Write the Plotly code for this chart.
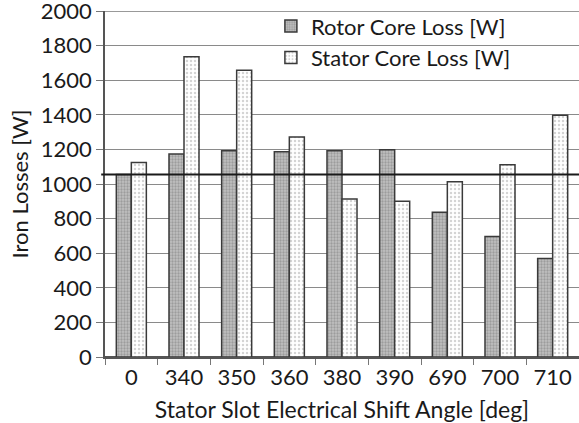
import plotly.graph_objects as go

angles = ["0", "340", "350", "360", "380", "390", "690", "700", "710"]
rotor_loss = [1055, 1173, 1192, 1187, 1192, 1198, 836, 697, 570]
stator_loss = [1125, 1736, 1657, 1272, 913, 900, 1013, 1111, 1397]
reference_level = 1055
y_ticks = [0, 200, 400, 600, 800, 1000, 1200, 1400, 1600, 1800, 2000]

FONT = "Lato"
TICK_SIZE = 22
LEGEND_SIZE = 22
XTITLE_SIZE = 23
YTITLE_SIZE = 22

fig = go.Figure()
fig.add_trace(go.Bar(
    x=angles, y=rotor_loss, name="Rotor Core Loss [W]",
    marker=dict(color="#c0c0c0", line=dict(color="#3a3a3a", width=1.5),
                pattern=dict(shape=".", fgcolor="#777777", bgcolor="#c0c0c0",
                             size=3, solidity=0.45)),
))
fig.add_trace(go.Bar(
    x=angles, y=stator_loss, name="Stator Core Loss [W]",
    marker=dict(color="#ffffff", line=dict(color="#3a3a3a", width=1.5),
                pattern=dict(shape=".", fgcolor="#a8a8a8", bgcolor="#ffffff",
                             size=4, solidity=0.3)),
))

# top border of the plot area (at 2000)
fig.add_shape(type="line", xref="paper", yref="y", x0=0, x1=1,
              y0=y_ticks[-1], y1=y_ticks[-1], layer="below",
              line=dict(color="#777777", width=1.5))
fig.add_shape(type="line", xref="paper", yref="y", x0=-0.008, x1=1,
              y0=reference_level, y1=reference_level,
              line=dict(color="#1a1a1a", width=2))

fig.update_layout(
    width=579, height=423,
    margin=dict(l=105, r=0, t=11, b=66, autoexpand=False),
    paper_bgcolor="white", plot_bgcolor="white",
    font=dict(family=FONT, size=TICK_SIZE, color="#1a1a1a"),
    barmode="group", bargap=0.43, bargroupgap=0,
    showlegend=True,
    legend=dict(x=0.35, y=1.017, xanchor="left", yanchor="top",
                bgcolor="rgba(0,0,0,0)", font=dict(family=FONT, size=LEGEND_SIZE),
                tracegroupgap=0, itemwidth=30),
    xaxis=dict(
        type="category", range=[-0.5, 8.5], automargin=False,
        title=dict(text="Stator Slot Electrical Shift Angle [deg]", standoff=13,
                   font=dict(family=FONT, size=XTITLE_SIZE)),
        showline=True, linecolor="#555555", linewidth=1.5,
        ticks="outside", tickson="boundaries", ticklen=6, tickcolor="#777777",
        showgrid=False, tickfont=dict(family=FONT, size=TICK_SIZE),
        ticklabeloverflow="allow",
    ),
    yaxis=dict(
        range=[0, 2000], tickvals=y_ticks, automargin=False,
        title=dict(text="Iron Losses [W]", standoff=6, font=dict(family=FONT, size=YTITLE_SIZE)),
        showline=True, linecolor="#555555", linewidth=1.5, mirror=False,
        ticks="outside", ticklen=7, tickcolor="#777777",
        showgrid=True, gridcolor="#8a8a8a", gridwidth=1.2,
        zeroline=True, zerolinecolor="#555555", zerolinewidth=1.5,
        tickfont=dict(family=FONT, size=TICK_SIZE), ticklabeloverflow="allow",
    ),
)

fig.write_html("out.html", config={"displayModeBar": False},
               post_script="document.body.style.margin='0';")
